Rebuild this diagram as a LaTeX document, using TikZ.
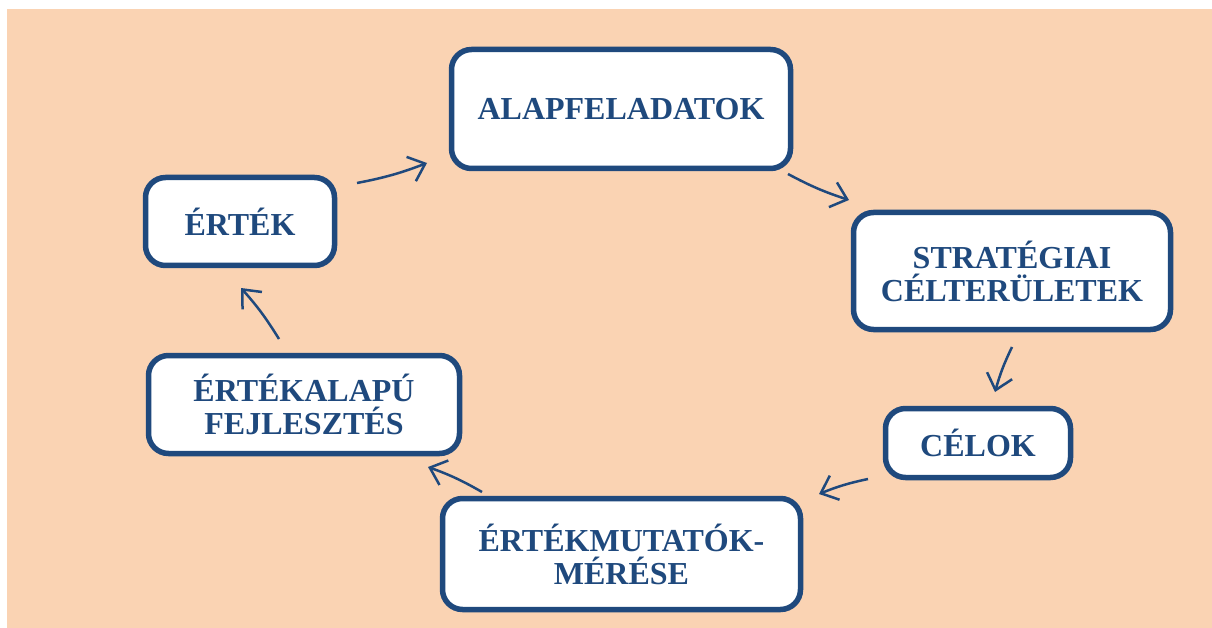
\documentclass[tikz,border=0pt]{standalone}
\usepackage{fontspec}
\setmainfont{Liberation Serif}
\usetikzlibrary{arrows.meta,positioning}
\definecolor{peach}{HTML}{FAD3B3}
\definecolor{darkblue}{HTML}{1F497D}

\begin{document}
\begin{tikzpicture}[x=1pt,y=-1pt,
    box/.style={rectangle,rounded corners=20pt,draw=darkblue,line width=5.5pt,fill=white,
      text=darkblue,font=\fontsize{32}{33}\selectfont\bfseries,align=center,inner sep=0pt},
    flow/.style={draw=darkblue,line width=2.5pt,-{Straight Barb[length=15pt,width=26pt]},bend right=5}]

    \fill[white] (0,0) rectangle (1212,628);
    \fill[peach] (7,9) rectangle (1212,628);
    \useasboundingbox (0,0) rectangle (1212,628);

    % the cycle
    \node[box,minimum width=339pt,minimum height=119pt] (alap) at (621,109) {ALAPFELADATOK};
    \node[box,minimum width=317pt,minimum height=117pt] (strat) at (1012,271) {STRATÉGIAI\\CÉLTERÜLETEK};
    \node[box,minimum width=185pt,minimum height=69pt] (celok) at (978,443) {CÉLOK};
    \node[box,minimum width=358pt,minimum height=111pt] (meres) at (621.5,554) {ÉRTÉKMUTATÓK-\\MÉRÉSE};
    \node[box,minimum width=311pt,minimum height=98pt] (fejl) at (304,404.5) {ÉRTÉKALAPÚ\\FEJLESZTÉS};
    \node[box,minimum width=189pt,minimum height=88pt] (ertek) at (240,221.5) {ÉRTÉK};

    \coordinate (ertek-out) at (357,183);  \coordinate (alap-in) at (427,163);
    \coordinate (alap-out) at (788,174);   \coordinate (strat-in) at (849,200);
    \coordinate (strat-out) at (1012,347); \coordinate (celok-in) at (995,392);
    \coordinate (celok-out) at (868,479);  \coordinate (meres-in) at (819,494);
    \coordinate (meres-out) at (482,492);  \coordinate (fejl-in) at (428,467);
    \coordinate (fejl-out) at (279,339);   \coordinate (ertek-in) at (241,288);

    \draw[flow] (ertek-out) to (alap-in);
    \draw[flow] (alap-out) to (strat-in);
    \draw[flow] (strat-out) to (celok-in);
    \draw[flow] (celok-out) to (meres-in);
    \draw[flow] (meres-out) to (fejl-in);
    \draw[flow] (fejl-out) to (ertek-in);
\end{tikzpicture}
\end{document}
